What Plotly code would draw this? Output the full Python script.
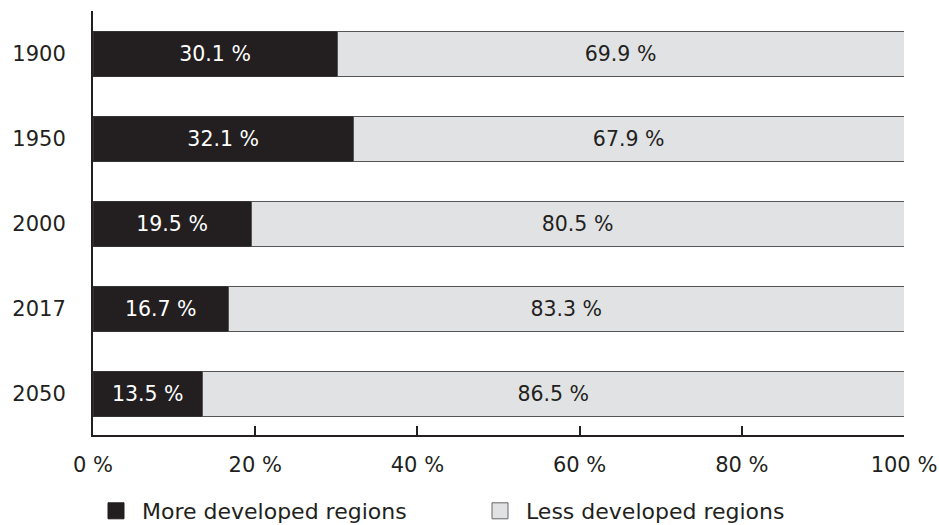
import plotly.graph_objects as go

years = ["1900", "1950", "2000", "2017", "2050"]
more_developed = [30.1, 32.1, 19.5, 16.7, 13.5]
less_developed = [69.9, 67.9, 80.5, 83.3, 86.5]
tick_vals = [0, 20, 40, 60, 80, 100]
tick_text = ["0 %", "20 %", "40 %", "60 %", "80 %", "100 %"]
series_names = ["More developed regions", "Less developed regions"]

FONT = "DejaVu Sans, Verdana, sans-serif"
DARK = "#231f20"
LIGHT = "#e1e2e4"

fig = go.Figure()
fig.add_trace(go.Bar(
    y=years, x=more_developed, orientation="h", name=series_names[0],
    marker=dict(color=DARK, line=dict(color="#333333", width=1)),
    texttemplate="%{x:.1f} %", textposition="inside", insidetextanchor="middle",
    textangle=0, constraintext="none", showlegend=False,
    textfont=dict(color="white", size=20.5, family=FONT),
))
fig.add_trace(go.Bar(
    y=years, x=less_developed, orientation="h", name=series_names[1],
    marker=dict(color=LIGHT, line=dict(color="#555555", width=1)),
    texttemplate="%{x:.1f} %", textposition="inside", insidetextanchor="middle",
    textangle=0, constraintext="none", showlegend=False,
    textfont=dict(color="#231f20", size=20.5, family=FONT),
))
# legend entries (square symbols like the reference)
fig.add_trace(go.Scatter(
    x=[None], y=[None], mode="markers", name=series_names[0],
    marker=dict(symbol="square", size=16, color=DARK, line=dict(color=DARK, width=1)),
))
fig.add_trace(go.Scatter(
    x=[None], y=[None], mode="markers", name=series_names[1],
    marker=dict(symbol="square", size=16, color=LIGHT, line=dict(color="#666666", width=1)),
))

fig.update_layout(
    barmode="stack",
    bargap=0.46,
    width=939, height=525,
    margin=dict(l=93, r=35, t=11, b=90, autoexpand=False),
    paper_bgcolor="white", plot_bgcolor="white",
    font=dict(family=FONT, size=21, color="#231f20"),
    showlegend=True,
    legend=dict(
        orientation="h",
        xref="container", x=90 / 939, xanchor="left",
        yref="container", y=1 - 511 / 525, yanchor="middle",
        entrywidth=327, itemwidth=42,
        font=dict(size=22, family=FONT, color="#231f20"),
        traceorder="normal", itemclick=False, itemdoubleclick=False,
    ),
    xaxis=dict(
        range=[0, 100], tickvals=tick_vals, ticktext=tick_text,
        showgrid=False, zeroline=False, automargin=False,
        showline=True, linecolor="#231f20", linewidth=2,
        ticks="inside", ticklen=9, tickwidth=2, tickcolor="#231f20",
        ticklabelstandoff=10, tickfont=dict(size=21, family=FONT),
    ),
    yaxis=dict(
        type="category", categoryorder="array", categoryarray=years,
        autorange=False, range=[4.482, -0.506], automargin=False,
        showgrid=False, zeroline=False,
        showline=True, linecolor="#231f20", linewidth=2,
        ticks="", ticklabelstandoff=21, tickfont=dict(size=21, family=FONT),
    ),
)

fig.write_html("out.html")
